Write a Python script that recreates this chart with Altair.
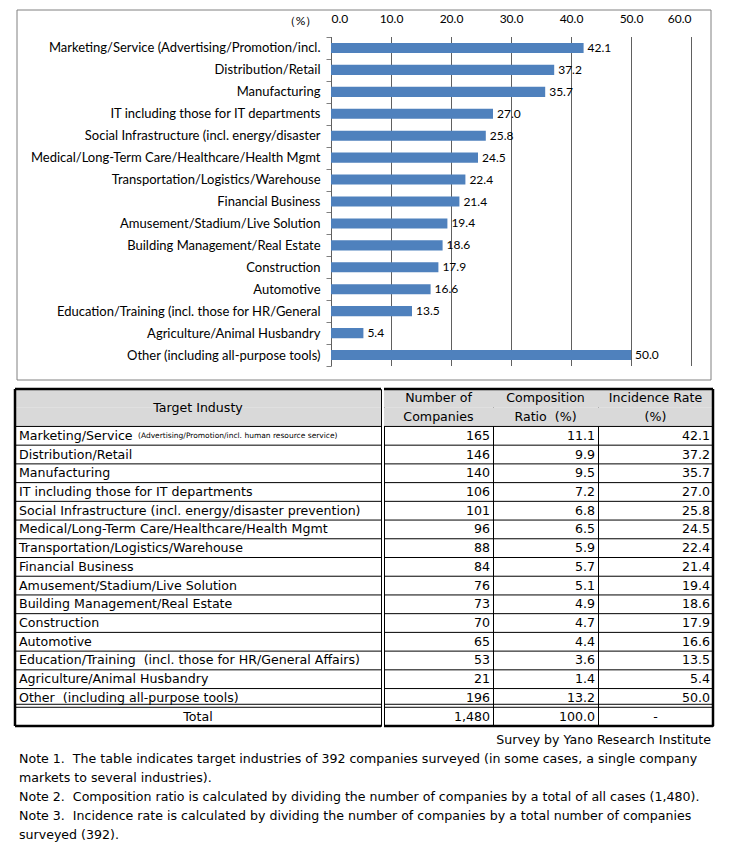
import altair as alt
import pandas as pd

# ---------------- data ----------------
CATEGORIES = [
    "Marketing/Service (Advertising/Promotion/incl.",
    "Distribution/Retail",
    "Manufacturing",
    "IT including those for IT departments",
    "Social Infrastructure (incl. energy/disaster",
    "Medical/Long-Term Care/Healthcare/Health Mgmt",
    "Transportation/Logistics/Warehouse",
    "Financial Business",
    "Amusement/Stadium/Live Solution",
    "Building Management/Real Estate",
    "Construction",
    "Automotive",
    "Education/Training (incl. those for HR/General",
    "Agriculture/Animal Husbandry",
    "Other (including all-purpose tools)",
]
RATES = [42.1, 37.2, 35.7, 27.0, 25.8, 24.5, 22.4, 21.4, 19.4, 18.6, 17.9, 16.6, 13.5, 5.4, 50.0]

TABLE_NAMES = [
    "Marketing/Service",
    "Distribution/Retail",
    "Manufacturing",
    "IT including those for IT departments",
    "Social Infrastructure (incl. energy/disaster prevention)",
    "Medical/Long-Term Care/Healthcare/Health Mgmt",
    "Transportation/Logistics/Warehouse",
    "Financial Business",
    "Amusement/Stadium/Live Solution",
    "Building Management/Real Estate",
    "Construction",
    "Automotive",
    "Education/Training\u00a0 (incl. those for HR/General Affairs)",
    "Agriculture/Animal Husbandry",
    "Other\u00a0 (including all-purpose tools)",
]
NAME_SUFFIX = "(Advertising/Promotion/incl. human resource service)"
COUNTS = [165, 146, 140, 106, 101, 96, 88, 84, 76, 73, 70, 65, 53, 21, 196]
COMPOSITION = [11.1, 9.9, 9.5, 7.2, 6.8, 6.5, 5.9, 5.7, 5.1, 4.9, 4.7, 4.4, 3.6, 1.4, 13.2]
TOTAL_ROW = ["Total", "1,480", "100.0", "-"]
HEADERS = [["Target Industy"], ["Number of", "Companies"], ["Composition", "Ratio\u00a0 (%)"], ["Incidence Rate", "(%)"]]
SOURCE = "Survey by Yano Research Institute"
NOTES = [
    "Note 1.\u00a0 The table indicates target industries of 392 companies surveyed (in some cases, a single company",
    "markets to several industries).",
    "Note 2.\u00a0 Composition ratio is calculated by dividing the number of companies by a total of all cases (1,480).",
    "Note 3.\u00a0 Incidence rate is calculated by dividing the number of companies by a total number of companies",
    "surveyed (392).",
]
X_TICKS = [0, 10, 20, 30, 40, 50, 60]

CHART_FONT = "Lato"
TABLE_FONT = "DejaVu Sans"
TABLE_FS = 12.6
GRID = "#808080"
BAR = "#4F81BD"

# ---------------- bar chart ----------------
CW, CH = 696, 370          # whole chart box
PX0, PX1 = 316, 676        # plot area inside the box
PY0, PY1 = 27, 356
bar_df = pd.DataFrame({"category": CATEGORIES, "rate": RATES})
tick_df = pd.DataFrame({"v": X_TICKS})

y_enc = alt.Y(
    "category:N", sort=None, title=None,
    scale=alt.Scale(range=[PY0, PY1], paddingInner=0, paddingOuter=0),
    axis=alt.Axis(offset=-PX0, labelFont=CHART_FONT, labelFontSize=13, labelColor="#000",
                  labelPadding=6, labelLimit=400, domainColor=GRID, tickColor=GRID,
                  tickSize=5, tickBand="extent"),
)
x_scale = alt.Scale(domain=[0, 60], range=[PX0, PX1])
x_enc = alt.X(
    "rate:Q", title="（%）", scale=x_scale,
    axis=alt.Axis(orient="top", offset=-PY0, values=X_TICKS, format=".1f",
                  grid=False, domain=False, ticks=False,
                  labelFont=CHART_FONT, labelFontSize=12, labelColor="#000", labelPadding=12,
                  titleFont=CHART_FONT, titleFontSize=12, titleFontWeight="normal", titleColor="#000",
                  titleX=PX0 - 31, titleY=-17, titleAlign="center", titleBaseline="middle",
                  titleAngle=0),
)

grid = alt.Chart(tick_df).mark_rule(color="#606060", strokeWidth=1, xOffset=0.5).encode(
    x=alt.X("v:Q", scale=x_scale), y=alt.value(PY0), y2=alt.value(PY1))
bars = alt.Chart(bar_df).mark_bar(color=BAR, height={"band": 0.46}).encode(x=x_enc, y=y_enc)
vals = alt.Chart(bar_df).mark_text(align="left", baseline="middle", dx=4, font=CHART_FONT,
                                   fontSize=12, color="#000").encode(
    x="rate:Q", y=alt.Y("category:N", sort=None), text=alt.Text("rate:Q", format=".1f"))
frame = alt.Chart(alt.Data(values=[{}])).mark_rect(fill="transparent", stroke=GRID, strokeWidth=1).encode(
    x=alt.value(2), x2=alt.value(CW), y=alt.value(0), y2=alt.value(CH))

bar_chart = alt.layer(frame, grid, bars, vals).properties(width=CW, height=CH)

# ---------------- table ----------------
ROW_KEYS = ["h0", "h1"] + [f"r{i}" for i in range(len(TABLE_NAMES))] + ["tot"]
TABLE_H = 337
COL_W = [366, 109, 105, 115]

rows = pd.DataFrame({
    "row": [f"r{i}" for i in range(len(TABLE_NAMES))] + ["tot"],
    "c0": TABLE_NAMES + [TOTAL_ROW[0]],
    "c1": [str(c) for c in COUNTS] + [TOTAL_ROW[1]],
    "c2": [f"{v:.1f}" for v in COMPOSITION] + [TOTAL_ROW[2]],
    "c3": [f"{v:.1f}" for v in RATES] + [TOTAL_ROW[3]],
})
body = rows[rows.row != "tot"]
total = rows[rows.row == "tot"]
line_df = pd.DataFrame({"row": ROW_KEYS[2:]})
head_bg = pd.DataFrame({"row": ["h0", "h1"]})


def row_y(**kw):
    return alt.Y("row:N", sort=ROW_KEYS, title=None, axis=None,
                 scale=alt.Scale(domain=ROW_KEYS, paddingInner=0, paddingOuter=0), **kw)


def txt(df, **kw):
    base = dict(font=TABLE_FONT, fontSize=TABLE_FS, color="#000", baseline="middle")
    base.update(kw)
    return alt.Chart(df).mark_text(**base)


def column(i):
    w = COL_W[i]
    layers = [
        alt.Chart(head_bg).mark_rect(color="#d9d9d9").encode(
            y=row_y(), x=alt.value(0), x2=alt.value(w)),
        alt.Chart(line_df).mark_rule(color="#000", strokeWidth=1).encode(
            y=row_y(bandPosition=0), x=alt.value(0), x2=alt.value(w)),
        alt.Chart(line_df[line_df.row == "tot"]).mark_rule(color="#000", strokeWidth=1, yOffset=-3).encode(
            y=row_y(bandPosition=0), x=alt.value(0), x2=alt.value(w)),
    ]
    hdr = HEADERS[i]
    if len(hdr) == 1:
        layers.append(txt(pd.DataFrame({"row": ["h1"], "t": hdr}), align="center").encode(
            y=row_y(bandPosition=0), x=alt.value(w / 2), text="t:N"))
    else:
        layers.append(txt(pd.DataFrame({"row": ["h0", "h1"], "t": hdr}), align="center").encode(
            y=row_y(), x=alt.value(w / 2), text="t:N"))
    field = f"c{i}"
    if i == 0:
        layers.append(txt(body, align="left").encode(y=row_y(), x=alt.value(4), text=f"{field}:N"))
        layers.append(txt(body[body.row == "r0"].assign(s=NAME_SUFFIX), align="left", fontSize=7.5).encode(
            y=row_y(), x=alt.value(123), text="s:N"))
        layers.append(txt(total, align="center").encode(y=row_y(), x=alt.value(w / 2), text=f"{field}:N"))
    else:
        layers.append(txt(body, align="right").encode(y=row_y(), x=alt.value(w - 3), text=f"{field}:N"))
        if i == 3:
            layers.append(txt(total, align="center").encode(y=row_y(), x=alt.value(w / 2), text=f"{field}:N"))
        else:
            layers.append(txt(total, align="right").encode(y=row_y(), x=alt.value(w - 3), text=f"{field}:N"))
    edge = alt.Data(values=[{}])
    layers.append(alt.Chart(edge).mark_rule(color="#000", strokeWidth=2.5).encode(
        y=alt.value(0), x=alt.value(0), x2=alt.value(w)))
    layers.append(alt.Chart(edge).mark_rule(color="#000", strokeWidth=2.5).encode(
        y=alt.value(TABLE_H), x=alt.value(0), x2=alt.value(w)))
    if i == 0:
        layers.append(alt.Chart(edge).mark_rule(color="#000", strokeWidth=2.5).encode(
            x=alt.value(0), y=alt.value(0), y2=alt.value(TABLE_H)))
    if i == 3:
        layers.append(alt.Chart(edge).mark_rule(color="#000", strokeWidth=2.5).encode(
            x=alt.value(w), y=alt.value(0), y2=alt.value(TABLE_H)))
    return alt.layer(*layers).properties(
        width=w, height=TABLE_H, view=alt.ViewBackground(stroke="#000", strokeWidth=1))


table = alt.hconcat(
    column(0),
    alt.hconcat(column(1), column(2), column(3), spacing=0, bounds="flush"),
    spacing=3, bounds="flush",
)

# ---------------- notes ----------------
note_df = pd.DataFrame({"line": list(range(1, len(NOTES) + 1)), "t": NOTES})
src_df = pd.DataFrame({"line": [0], "t": [SOURCE]})
LINES = list(range(len(NOTES) + 1))
ny = alt.Y("line:O", title=None, axis=None,
           scale=alt.Scale(domain=LINES, paddingInner=0, paddingOuter=0))
notes = alt.layer(
    txt(src_df, align="right").encode(y=ny, x=alt.value(696), text="t:N"),
    txt(note_df, align="left").encode(y=ny, x=alt.value(4), text="t:N"),
).properties(width=698, height=19 * len(LINES))

chart = alt.concat(
    bar_chart,
    alt.vconcat(table, notes, spacing=2),
    columns=1, spacing=6,
).properties(
    padding={"left": 5, "top": -4, "right": 0, "bottom": 0}
).configure_view(stroke=None)

chart.save("out.html", embed_options={"renderer": "svg", "actions": False})
